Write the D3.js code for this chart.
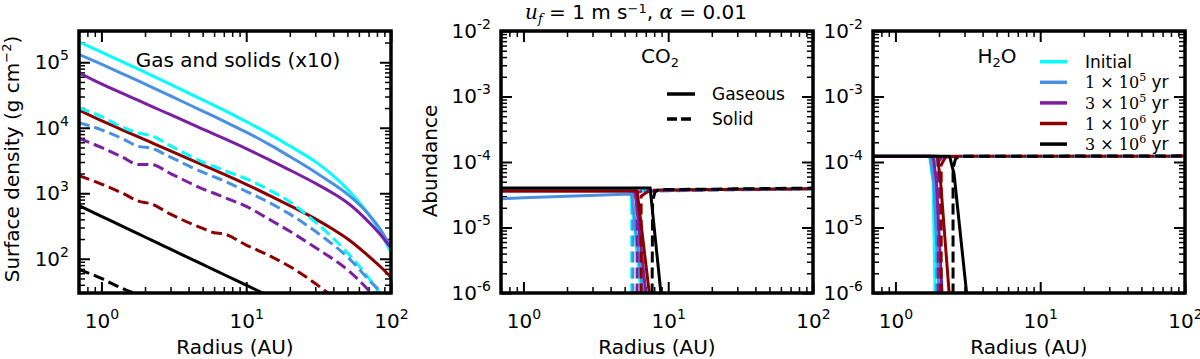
<!DOCTYPE html>
<html>
<head>
<meta charset="utf-8">
<script src="https://cdn.jsdelivr.net/npm/d3@7"></script>
<style>
  body { margin: 0; background: #fff; }
  svg text { font-family: "DejaVu Sans", sans-serif; fill: #000; }
</style>
</head>
<body>
<div id="chart"></div>
<script>
// ---------- data ----------
// left panel: surface density, radius grid shared by all series
const radiusGrid = [0.7, 1, 1.4, 1.8, 2.2, 3, 5, 6, 7, 10, 15, 20, 30, 40, 50, 70, 85, 100];
const gasInitial = [2.04e5, 1.43e5, 1.01e5, 7.83e4, 6.37e4, 4.59e4, 2.67e4, 2.2e4, 1.86e4, 1.24e4, 7.66e3, 5.26e3, 3.04e3, 1.84e3, 1.15e3, 479, 248, 123];
const gas1e5 = [1.32e5, 9.33e4, 6.67e4, 5.18e4, 4.22e4, 3.06e4, 1.8e4, 1.49e4, 1.26e4, 8.59e3, 5.28e3, 3.63e3, 2.1e3, 1.38e3, 968, 478, 275, 151];
const gas3e5 = [6.92e4, 4.68e4, 3.34e4, 2.61e4, 2.14e4, 1.58e4, 9.55e3, 8.0e3, 6.87e3, 4.81e3, 3.1e3, 2.26e3, 1.42e3, 991, 716, 366, 230, 145];
const gas1e6 = [1.86e4, 1.28e4, 9.23e3, 7.24e3, 5.97e3, 4.43e3, 2.71e3, 2.28e3, 1.96e3, 1.37e3, 889, 647, 406, 279, 202, 110, 74.8, 52.2];
const gas3e6 = [646, 444, 312, 239, 194, 140, 81.8, 67.6, 57.5, 39.5, 25.8, 19, 12, 9, 7, 5, 4, 3];
const solidInitial = [2.0e4, 1.48e4, 1.02e4, 8.3e3, 7.6e3, 5.3e3, 3.0e3, 2.57e3, 2.24e3, 1.66e3, 1.07e3, 741, 363, 204, 123, 51, 28, 14];
const solid1e5 = [1.2e4, 9.3e3, 6.8e3, 5.2e3, 4.9e3, 3.55e3, 2.1e3, 1.78e3, 1.55e3, 1.07e3, 690, 480, 263, 162, 107, 48, 30, 16];
const solid3e5 = [6.9e3, 5.0e3, 3.55e3, 2.75e3, 2.75e3, 2.0e3, 1.17e3, 1.0e3, 870, 630, 380, 263, 148, 98, 68, 33, 20, 10];
const solid1e6 = [1.86e3, 1.38e3, 1.0e3, 760, 690, 480, 290, 250, 240, 162, 107, 76, 42, 26, 18, 10, 8, 6];
const solid3e6 = [69, 50, 35, 28, 23, 15, 9, 8, 7, 5, 3, 2, 1.5, 1.2, 1, 0.8, 0.7, 0.6];

// CO2 panel: [radius, abundance] pairs
const co2Gas = [
  [[0.7, 3.7e-5], [5.5, 3.7e-5], [6.5, 1e-6]],
  [[0.7, 2.75e-5], [1, 2.85e-5], [2, 3.0e-5], [4, 3.15e-5], [5.6, 3.25e-5], [6.7, 1e-6]],
  [[0.7, 3.6e-5], [5.9, 3.6e-5], [7.0, 1e-6]],
  [[0.7, 3.6e-5], [6.1, 3.6e-5], [7.4, 1e-6]],
  [[0.7, 4.0e-5], [7.5, 4.0e-5], [8.9, 1e-6]]
];
const co2Solid = [
  [[5.6, 1e-7], [5.6, 3.5e-5], [6, 3.7e-5], [20, 3.8e-5], [100, 3.9e-5]],
  [[5.7, 1e-7], [5.7, 3.3e-5], [6.3, 3.5e-5], [8, 3.6e-5], [20, 3.7e-5], [100, 3.9e-5]],
  [[6.1, 1e-7], [6.1, 3.4e-5], [6.6, 3.6e-5], [20, 3.8e-5], [100, 3.9e-5]],
  [[6.5, 1e-7], [6.5, 3.0e-5], [6.9, 3.3e-5], [7.5, 3.7e-5], [20, 3.8e-5], [100, 3.9e-5]],
  [[7.7, 1e-7], [7.8, 2.5e-5], [8.1, 3.5e-5], [8.6, 3.8e-5], [20, 3.85e-5], [100, 4.0e-5]]
];

// H2O panel
const h2oGas = [
  [[0.7, 1.22e-4], [1.72, 1.22e-4], [1.82, 5e-5], [1.88, 1e-6]],
  [[0.7, 1.22e-4], [1.74, 1.22e-4], [1.84, 5e-5], [2.0, 1e-6]],
  [[0.7, 1.22e-4], [1.82, 1.22e-4], [1.92, 5e-5], [2.1, 1e-6]],
  [[0.7, 1.22e-4], [1.95, 1.22e-4], [2.05, 5e-5], [2.35, 1e-6]],
  [[0.7, 1.22e-4], [2.37, 1.22e-4], [2.45, 9e-5], [2.54, 6.6e-5], [3.1, 1e-6]]
];
const h2oSolid = [
  [[1.88, 1e-7], [1.88, 1.1e-4], [1.95, 1.2e-4], [3, 1.22e-4], [100, 1.23e-4]],
  [[1.93, 1e-7], [1.93, 1.05e-4], [2.0, 1.2e-4], [3, 1.22e-4], [100, 1.23e-4]],
  [[1.98, 1e-7], [1.98, 1.0e-4], [2.1, 1.2e-4], [3, 1.22e-4], [100, 1.23e-4]],
  [[2.07, 1e-7], [2.07, 9e-5], [2.2, 1.15e-4], [2.4, 1.22e-4], [100, 1.23e-4]],
  [[2.5, 1e-7], [2.5, 8e-5], [2.6, 1.12e-4], [2.8, 1.22e-4], [100, 1.24e-4]]
];

const timeColors = ["#00ffff", "#4a90e2", "#7b1fa2", "#8b0000", "#000000"];
const timeCoef = [null, 1, 3, 1, 3];
const timeExp = [null, 5, 5, 6, 6];

const radiusDomain = [0.7, 100];
const sigmaDomain = [30, 3e5];
const abundDomain = [1e-6, 1e-2];

// ---------- layout ----------
const W = 312, H = 262, TOP = 31;
const DASH = "11,5";
const LW = 3;
const FS = 20;

const svg = d3.select("#chart").append("svg")
  .attr("width", 1200)
  .attr("height", 359);

const isPow10 = d => Math.abs(Math.log10(d) - Math.round(Math.log10(d))) < 1e-6;

function powLabel(d) {
  const e = Math.round(Math.log10(d));
  const t = d3.select(this);
  t.text(null);
  t.append("tspan").text("10");
  t.append("tspan").attr("dy", -9).attr("font-size", 14).text(e < 0 ? "-" + (-e) : e);
}

function styleAxis(ax, w) {
  ax.select(".domain").remove();
  ax.selectAll("line").attr("stroke", "#000").attr("stroke-width", w);
  ax.attr("font-size", FS).attr("font-family", "DejaVu Sans");
}

function makePanel(left, yDomain, id) {
  const g = svg.append("g").attr("transform", "translate(" + left + "," + TOP + ")");
  const x = d3.scaleLog().domain(radiusDomain).range([0, W]);
  const y = d3.scaleLog().domain(yDomain).range([H, 0]);

  g.append("clipPath").attr("id", id).append("rect")
    .attr("width", W).attr("height", H);

  const xMaj = x.ticks().filter(isPow10), xMin = x.ticks().filter(d => !isPow10(d));
  const yMaj = y.ticks().filter(isPow10), yMin = y.ticks().filter(d => !isPow10(d));

  // bottom
  const bx = g.append("g").attr("transform", "translate(0," + H + ")")
    .call(d3.axisBottom(x).tickValues(xMaj).tickSize(-11).tickPadding(21));
  styleAxis(bx, 2);
  bx.selectAll(".tick text").each(powLabel);
  styleAxis(g.append("g").attr("transform", "translate(0," + H + ")")
    .call(d3.axisBottom(x).tickValues(xMin).tickSize(-6).tickFormat("")), 1.5);
  // top
  styleAxis(g.append("g").call(d3.axisTop(x).tickValues(xMaj).tickSize(-11).tickFormat("")), 2);
  styleAxis(g.append("g").call(d3.axisTop(x).tickValues(xMin).tickSize(-6).tickFormat("")), 1.5);
  // left
  const ly = g.append("g").call(d3.axisLeft(y).tickValues(yMaj).tickSize(-11).tickPadding(10));
  styleAxis(ly, 2);
  ly.selectAll(".tick text").each(powLabel);
  styleAxis(g.append("g").call(d3.axisLeft(y).tickValues(yMin).tickSize(-6).tickFormat("")), 1.5);
  // right
  styleAxis(g.append("g").attr("transform", "translate(" + W + ",0)")
    .call(d3.axisRight(y).tickValues(yMaj).tickSize(-11).tickFormat("")), 2);
  styleAxis(g.append("g").attr("transform", "translate(" + W + ",0)")
    .call(d3.axisRight(y).tickValues(yMin).tickSize(-6).tickFormat("")), 1.5);

  const lines = g.append("g").attr("clip-path", "url(#" + id + ")");

  g.append("text")
    .attr("x", W / 2).attr("y", 323)
    .attr("text-anchor", "middle").attr("font-size", FS)
    .text("Radius (AU)");

  return { g, x, y, lines };
}

function drawLine(p, pts, color, dashed, smooth) {
  const line = d3.line().x(d => p.x(d[0])).y(d => p.y(d[1]))
    .curve(smooth ? d3.curveMonotoneX : d3.curveLinear);
  p.lines.append("path")
    .datum(pts)
    .attr("d", line)
    .attr("fill", "none")
    .attr("stroke", color)
    .attr("stroke-width", LW)
    .attr("stroke-dasharray", dashed ? DASH : null);
}

function frame(p) {
  p.g.append("rect").attr("width", W).attr("height", H)
    .attr("fill", "none").attr("stroke", "#000").attr("stroke-width", 3.5);
}

// ---------- panel 1: surface density ----------
const p1 = makePanel(79, sigmaDomain, "clip1");
const gasSeries = [gasInitial, gas1e5, gas3e5, gas1e6, gas3e6];
const solidSeries = [solidInitial, solid1e5, solid3e5, solid1e6, solid3e6];
gasSeries.forEach((s, i) => drawLine(p1, radiusGrid.map((r, k) => [r, s[k]]), timeColors[i], false, true));
solidSeries.forEach((s, i) => drawLine(p1, radiusGrid.map((r, k) => [r, s[k]]), timeColors[i], true, true));
frame(p1);

p1.g.append("text").attr("x", 159).attr("y", 36).attr("text-anchor", "middle")
  .attr("font-size", FS).text("Gas and solids (x10)");

const ylab1 = svg.append("text").attr("transform", "translate(19,159) rotate(-90)")
  .attr("text-anchor", "middle").attr("font-size", FS);
ylab1.append("tspan").text("Surface density (g cm");
ylab1.append("tspan").attr("dy", -8).attr("font-size", 13).text("\u22122");
ylab1.append("tspan").attr("dy", 8).text(")");

// ---------- panel 2: CO2 ----------
const p2 = makePanel(501, abundDomain, "clip2");
for (let i = 0; i < 5; i++) {
  drawLine(p2, co2Gas[i], timeColors[i], false, false);
  drawLine(p2, co2Solid[i], timeColors[i], true, false);
}
frame(p2);

const co2 = p2.g.append("text").attr("x", 159).attr("y", 32).attr("text-anchor", "middle").attr("font-size", FS);
co2.append("tspan").text("CO");
co2.append("tspan").attr("dy", 4).attr("font-size", 13).text("2");

svg.append("text").attr("transform", "translate(437,161) rotate(-90)")
  .attr("text-anchor", "middle").attr("font-size", FS).text("Abundance");

// phase legend
[["Gaseous", false], ["Solid", true]].forEach((d, i) => {
  const yy = 63 + i * 25;
  p2.g.append("line").attr("x1", 166).attr("x2", 194).attr("y1", yy).attr("y2", yy)
    .attr("stroke", "#000").attr("stroke-width", 3.5)
    .attr("stroke-dasharray", d[1] ? "10,4" : null);
  p2.g.append("text").attr("x", 211).attr("y", yy + 6).attr("font-size", 17).text(d[0]);
});

// title
const title = svg.append("text").attr("x", 636).attr("y", 19).attr("text-anchor", "middle").attr("font-size", FS);
title.append("tspan").attr("font-family", "DejaVu Serif").attr("font-style", "italic").text("u");
title.append("tspan").attr("font-family", "DejaVu Serif").attr("font-style", "italic")
  .attr("font-size", 13).attr("dy", 4).text("f");
title.append("tspan").attr("dy", -4).text(" = 1 m s");
title.append("tspan").attr("dy", -6).attr("font-size", 13).text("\u22121");
title.append("tspan").attr("dy", 6).text(", ");
title.append("tspan").attr("font-family", "DejaVu Serif").attr("font-style", "italic").text("\u03b1");
title.append("tspan").text(" = 0.01");

// ---------- panel 3: H2O ----------
const p3 = makePanel(873, abundDomain, "clip3");
for (let i = 0; i < 5; i++) {
  drawLine(p3, h2oGas[i], timeColors[i], false, false);
  drawLine(p3, h2oSolid[i], timeColors[i], true, false);
}
frame(p3);

const h2o = p3.g.append("text").attr("x", 124).attr("y", 32).attr("text-anchor", "middle").attr("font-size", FS);
h2o.append("tspan").text("H");
h2o.append("tspan").attr("dy", 4).attr("font-size", 13).text("2");
h2o.append("tspan").attr("dy", -4).text("O");

// time legend
timeColors.forEach((c, i) => {
  const yy = 30.7 + i * 20.6;
  p3.g.append("line").attr("x1", 167).attr("x2", 194).attr("y1", yy).attr("y2", yy)
    .attr("stroke", c).attr("stroke-width", 3.5);
  const t = p3.g.append("text").attr("x", 212).attr("y", yy + 6).attr("font-size", 17);
  if (timeCoef[i] === null) {
    t.text("Initial");
  } else {
    t.append("tspan").attr("font-family", "DejaVu Serif").attr("font-size", 16)
      .text(timeCoef[i] + " \u00d7 10");
    t.append("tspan").attr("font-family", "DejaVu Serif").attr("font-size", 11).attr("dy", -7)
      .text(timeExp[i]);
    t.append("tspan").attr("dy", 7).text(" yr");
  }
});
</script>
</body>
</html>
